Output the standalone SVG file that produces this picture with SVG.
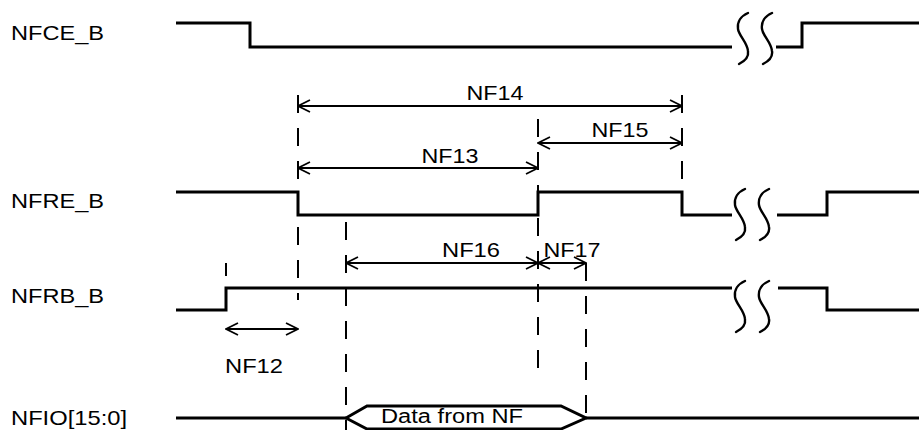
<svg xmlns="http://www.w3.org/2000/svg" width="919" height="430" viewBox="0 0 919 430">
<style>
.sig{fill:none;stroke:#000;stroke-width:3;stroke-linejoin:miter;stroke-linecap:butt}
.sq{fill:none;stroke:#000;stroke-width:2.4;stroke-linecap:round}
.dash{fill:none;stroke:#000;stroke-width:2;stroke-dasharray:18 15}
.dim{fill:none;stroke:#000;stroke-width:2;marker-start:url(#ah);marker-end:url(#ah)}
.lbl{font-family:"Liberation Sans",Arial,sans-serif;font-size:21px;fill:#000}
.mid{text-anchor:middle}
</style>
<defs>
<marker id="ah" viewBox="-15 -8 16 16" markerWidth="16" markerHeight="16" refX="0" refY="0" orient="auto-start-reverse" markerUnits="userSpaceOnUse">
<path d="M-12,-6 L0,0 L-12,6" fill="none" stroke="#000" stroke-width="1.8"/>
</marker>
<path id="squig" d="M12,0 C5,3 1,9 2,16 C3,23 11,29 12,38 C13,44 9,48 3,51"/>
</defs>
<rect width="919" height="430" fill="#fff"/>

<g id="NFCE_B">
<text class="lbl" x="11" y="40" textLength="93" lengthAdjust="spacingAndGlyphs">NFCE_B</text>
<path class="sig" d="M176,23 H250 V47 H732"/>
<path class="sig" d="M776,47 H802 V23 H919"/>
<use href="#squig" class="sq" x="736" y="13"/>
<use href="#squig" class="sq" x="760" y="13"/>
</g>

<g id="NFRE_B">
<text class="lbl" x="11" y="208" textLength="93" lengthAdjust="spacingAndGlyphs">NFRE_B</text>
<path class="sig" d="M176,192 H298 V215 H538 V192 H682 V215 H732"/>
<path class="sig" d="M777,215 H827 V192 H919"/>
<use href="#squig" class="sq" x="733" y="189"/>
<use href="#squig" class="sq" x="757" y="189"/>
</g>

<g id="NFRB_B">
<text class="lbl" x="11" y="303" textLength="93" lengthAdjust="spacingAndGlyphs">NFRB_B</text>
<path class="sig" d="M176,310 H226 V288 H732"/>
<path class="sig" d="M778,288 H827 V310 H919"/>
<use href="#squig" class="sq" x="733" y="281"/>
<use href="#squig" class="sq" x="757" y="281"/>
</g>

<g id="NFIO">
<text class="lbl" x="11" y="425" textLength="116" lengthAdjust="spacingAndGlyphs">NFIO[15:0]</text>
<path class="sig" d="M176,418 H346"/>
<path class="sig" d="M586,418 H919"/>
<path class="sig" d="M346,418 L367,406 H561 L586,418 L561,429 H367 Z"/>
<text class="lbl mid" x="452" y="423" style="font-size:20px" textLength="142" lengthAdjust="spacingAndGlyphs">Data from NF</text>
</g>

<g id="connectors">
<line class="dash" x1="226" y1="263" x2="226" y2="276" style="stroke-dasharray:none"/>
<line class="dash" x1="298" y1="95" x2="298" y2="300"/>
<line class="dash" x1="346" y1="222" x2="346" y2="430"/>
<line class="dash" x1="538" y1="119" x2="538" y2="383"/>
<line class="dash" x1="586" y1="263" x2="586" y2="418"/>
<line class="dash" x1="682" y1="95" x2="682" y2="192"/>

<line class="dim" x1="298" y1="106" x2="682" y2="106"/>
<line class="dim" x1="298" y1="168" x2="538" y2="168"/>
<line class="dim" x1="538" y1="143" x2="682" y2="143"/>
<line class="dim" x1="346" y1="263" x2="538" y2="263"/>
<line class="dim" x1="538" y1="263" x2="586" y2="263"/>
<line class="dim" x1="226" y1="329" x2="298" y2="329"/>

<text class="lbl mid" x="495" y="100" textLength="57" lengthAdjust="spacingAndGlyphs">NF14</text>
<text class="lbl mid" x="450" y="163" textLength="57" lengthAdjust="spacingAndGlyphs">NF13</text>
<text class="lbl mid" x="620" y="137" textLength="57" lengthAdjust="spacingAndGlyphs">NF15</text>
<text class="lbl mid" x="471" y="257" textLength="58" lengthAdjust="spacingAndGlyphs">NF16</text>
<text class="lbl mid" x="572" y="257" textLength="57" lengthAdjust="spacingAndGlyphs">NF17</text>
<text class="lbl mid" x="254" y="373" textLength="58" lengthAdjust="spacingAndGlyphs">NF12</text>
</g>
</svg>
